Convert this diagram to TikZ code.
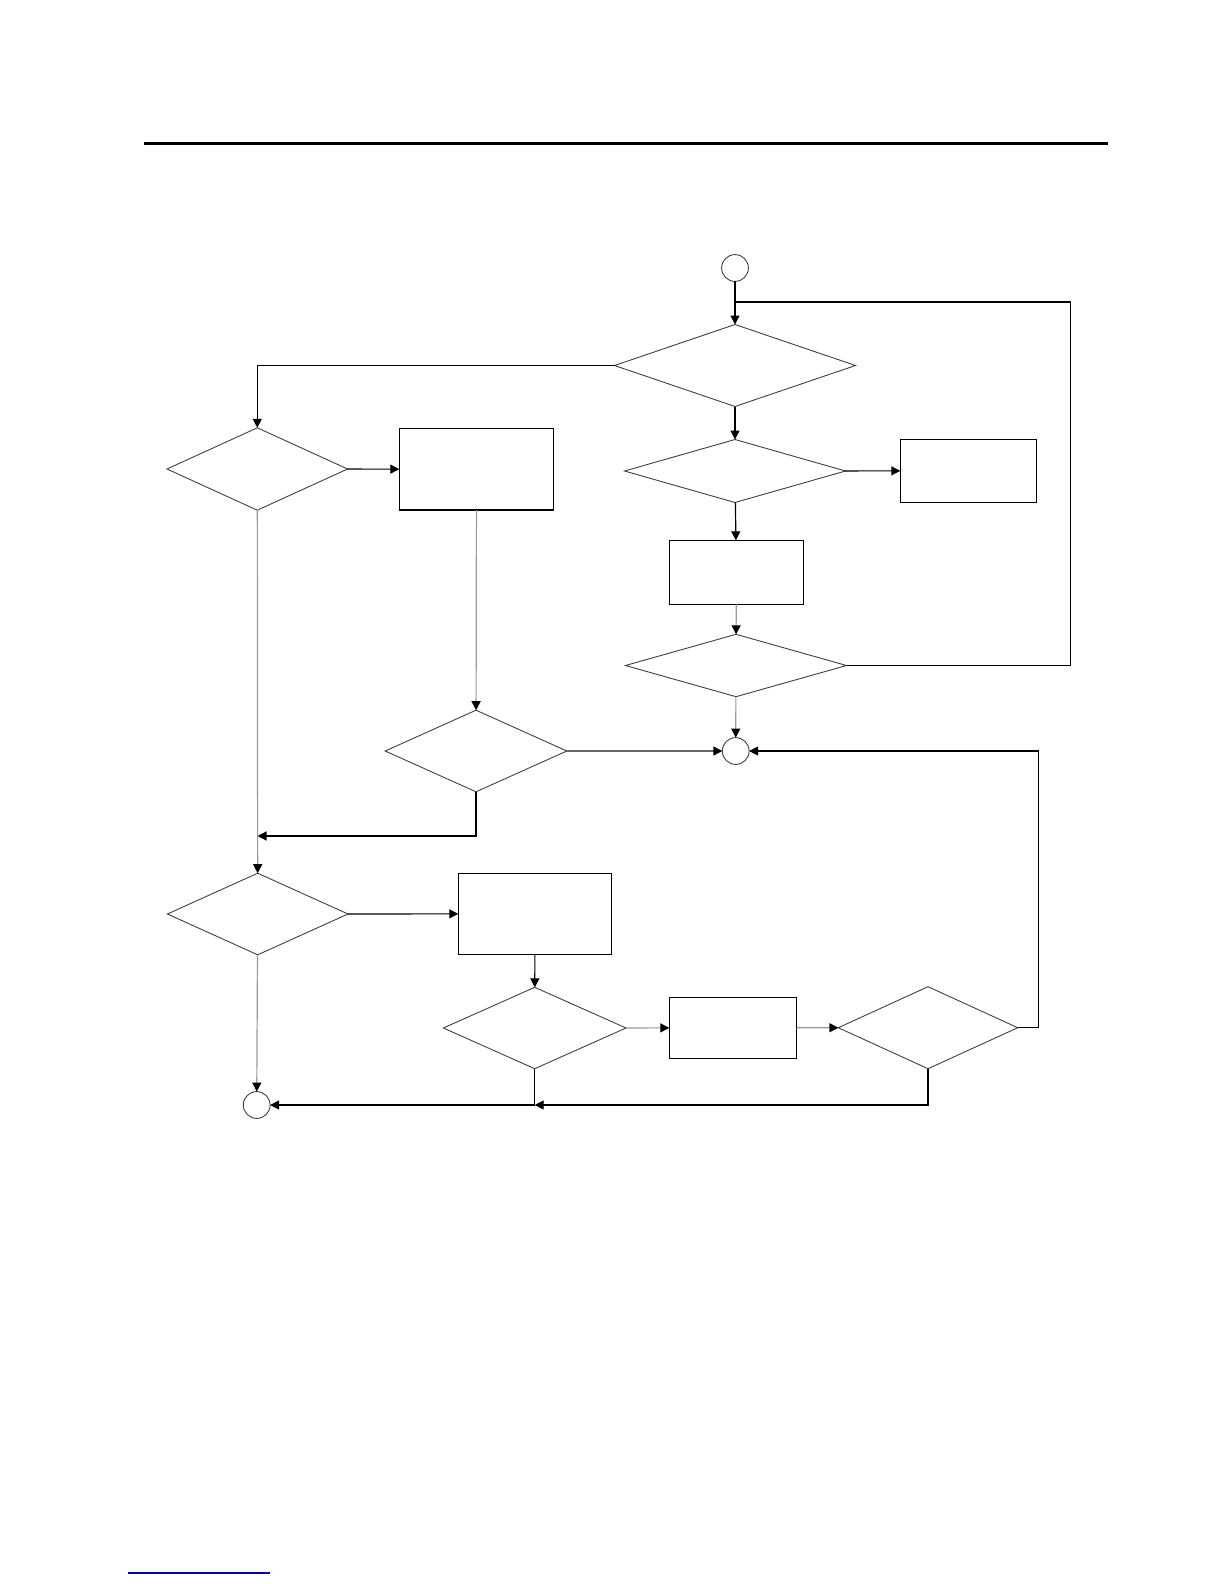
\documentclass[tikz,border=0pt]{standalone}
\usetikzlibrary{shapes.geometric,arrows.meta}
\begin{document}
\begin{tikzpicture}[x=0.5pt, y=-0.5pt, >={Triangle[length=4.5pt,width=4.5pt]},
  dec/.style={diamond, draw=black!75, line width=0.45pt, inner sep=0pt, outer sep=0pt},
  proc/.style={rectangle, draw=black, line width=0.65pt, inner sep=0pt, outer sep=0pt},
  conn/.style={circle, draw=black!75, line width=0.45pt, inner sep=0pt, outer sep=0pt, minimum size=13.4pt},
  flow/.style={draw=black, line width=0.6pt},
  faint/.style={draw=black!40, line width=0.6pt, >={Triangle[length=4.5pt,width=4.5pt,black]}}]
\useasboundingbox (0,0) rectangle (1224,1584);
% page rules
\draw[line width=1.2pt] (144,143.4) -- (1108,143.4);
\draw[blue!70!black, line width=0.6pt] (128,1573) -- (270,1573);
% upper branch
\node[conn] (start) at (735,268) {};
\node[dec, minimum width=120.5pt, minimum height=41pt] (d1) at (735,365.5) {};
\node[dec, minimum width=110.5pt, minimum height=31.5pt] (d2) at (735,471) {};
\node[proc, minimum width=68.2pt, minimum height=31.5pt] (boxR) at (968.5,470.8) {};
\node[proc, minimum width=67pt, minimum height=32pt] (boxC) at (736.3,572.3) {};
\node[dec, minimum width=110.5pt, minimum height=31.2pt] (d3) at (736,665.5) {};
\node[conn] (midc) at (735.7,751) {};
% left branch
\node[dec, minimum width=90.3pt, minimum height=41.2pt] (dA) at (257.3,469) {};
\node[proc, minimum width=77.2pt, minimum height=40.9pt] (boxB) at (476.5,469.2) {};
\node[dec, minimum width=90.8pt, minimum height=40.8pt] (dC) at (476,751) {};
\coordinate (joinA) at (257.5,836);
% lower branch
\node[dec, minimum width=90.3pt, minimum height=40.8pt] (dD) at (257.7,914) {};
\node[proc, minimum width=76.7pt, minimum height=40.5pt] (boxE) at (535,913.8) {};
\node[dec, minimum width=91.3pt, minimum height=40.7pt] (dF) at (534.7,1028) {};
\node[proc, minimum width=63.7pt, minimum height=30.5pt] (boxG) at (733,1027.8) {};
\node[dec, minimum width=89.7pt, minimum height=41pt] (dH) at (928,1027.7) {};
\node[conn] (endc) at (256.7,1105) {};
\coordinate (loopjoin) at (735,302);
\coordinate (joinF) at (534.7,1105);
% connectors
\draw[flow, ->] (start) -- (d1);
\draw[flow] (d3.east) -- ++(224,0) |- (loopjoin);
\draw[flow, ->] (d1.west) -| (dA.north);
\draw[flow, ->] (d1) -- (d2);
\draw[flow, ->] (d2) -- (boxR);
\draw[flow, ->] (d2) -- (boxC);
\draw[faint, ->] (boxC) -- (d3);
\draw[faint, ->] (d3) -- (midc);
\draw[flow, ->] (dA) -- (boxB);
\draw[faint, ->] (boxB) -- (dC);
\draw[faint, draw=black!60, ->] (dC) -- (midc);
\draw[flow, ->] (dC.south) |- (joinA);
\draw[faint, ->] (dA) -- (dD);
\draw[flow, ->] (dD) -- (boxE);
\draw[flow, ->] (boxE) -- (dF);
\draw[faint, ->] (dF) -- (boxG);
\draw[faint, ->] (boxG) -- (dH);
\draw[flow, ->] (dH.east) -- ++(21,0) |- (midc.east);
\draw[flow, ->] (dH.south) |- (joinF);
\draw[flow, ->] (dF.south) |- (endc.east);
\draw[faint, ->] (dD) -- (endc);
\end{tikzpicture}
\end{document}
